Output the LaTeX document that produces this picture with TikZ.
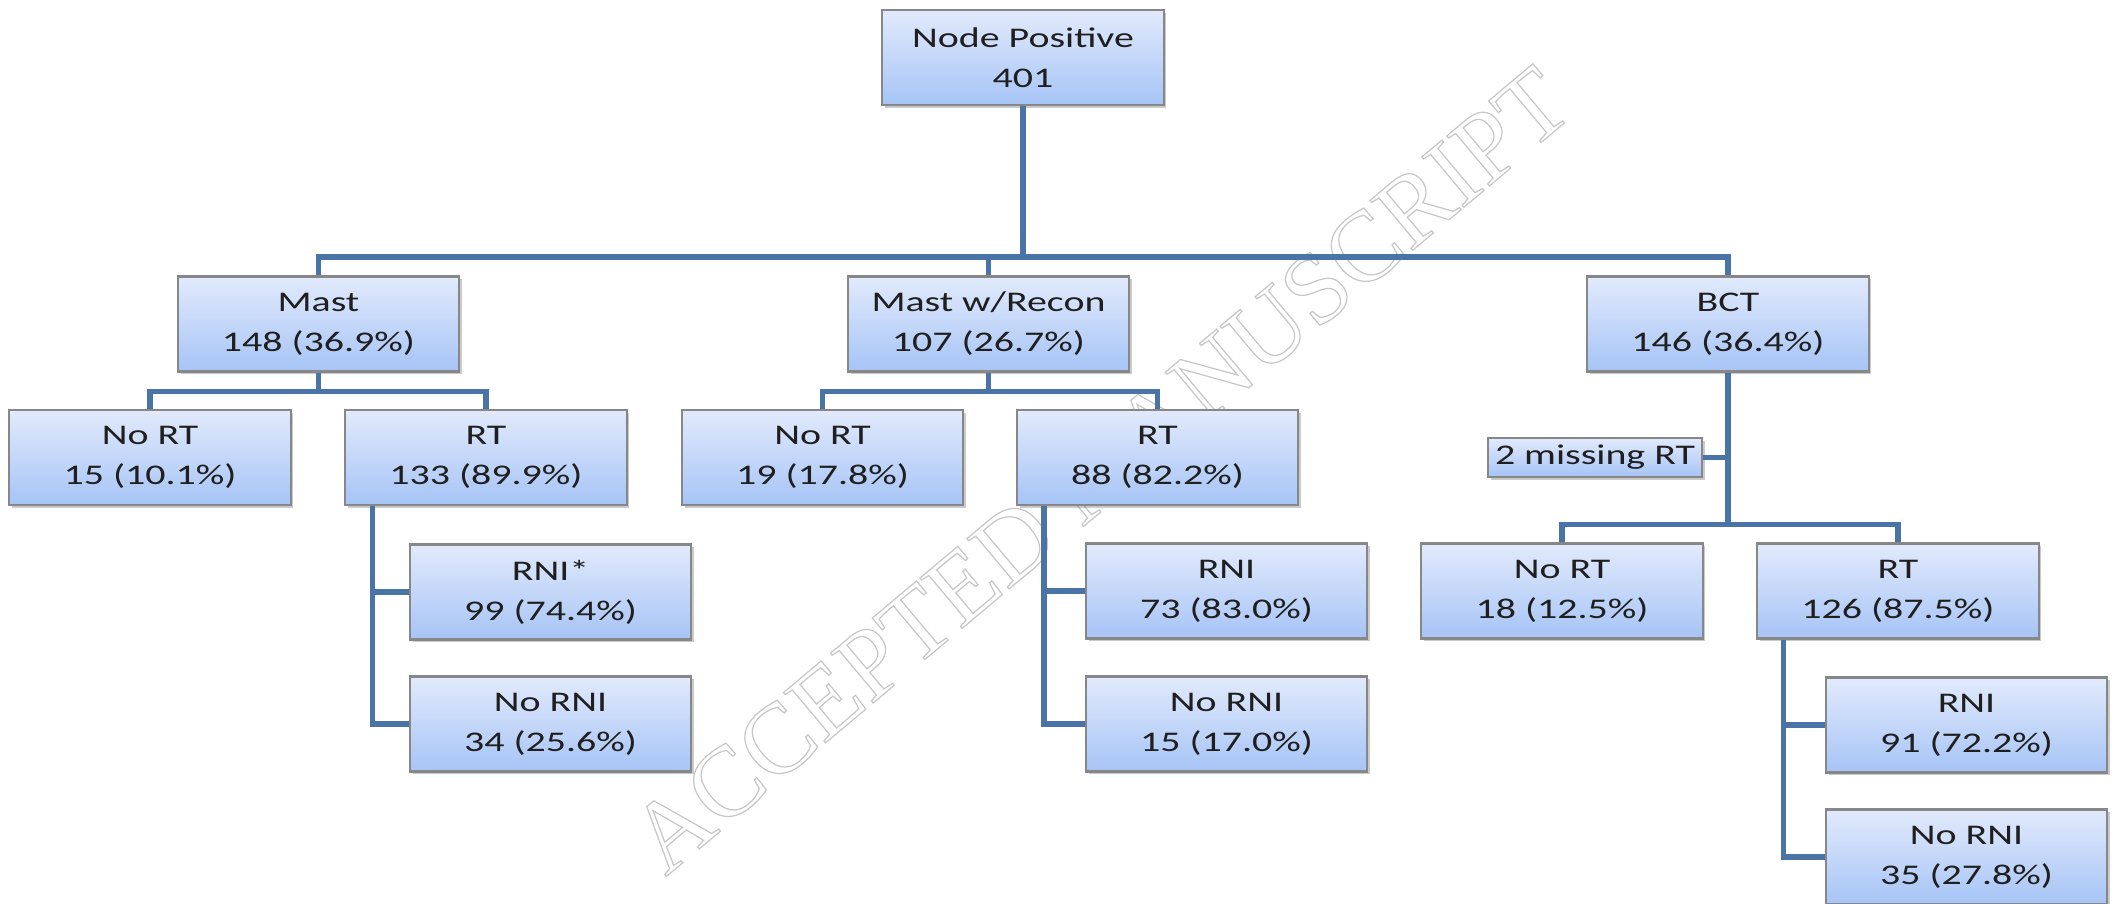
\documentclass[tikz,border=0pt]{standalone}
\usepackage{fontspec}
\newfontfamily\boxfont[FakeStretch=1.4]{Carlito}
\newfontfamily\wmfont{Liberation Serif}
\usetikzlibrary{shadows,calc}
\definecolor{boxtop}{RGB}{226,234,252}
\definecolor{boxbot}{RGB}{166,196,246}
\definecolor{boxline}{RGB}{135,135,135}
\definecolor{connblue}{RGB}{74,116,168}
\tikzset{
  box/.style={rectangle, draw=boxline, line width=0.6pt, top color=boxtop, bottom color=boxbot,
    minimum width=2.81cm, minimum height=0.95cm, align=center, inner sep=0pt,
    font={\boxfont\fontsize{8.1}{11.4}\selectfont}, text=black!88,
    drop shadow={shadow xshift=0.8pt, shadow yshift=-0.8pt, opacity=0.35, fill=black!60}},
  smallbox/.style={box, minimum width=2.14cm, minimum height=0.39cm},
  conn/.style={draw=connblue, line width=1.5pt},
  wmark/.style={rotate=40, text=black!22, font={\wmfont\fontsize{28.5}{28.5}\selectfont}}
}
\begin{document}
\begin{tikzpicture}[x=0.01cm, y=-0.01cm]
\useasboundingbox (0,0) rectangle (2117,904);
\node[wmark] (wm) at (1100,470) {\special{pdf:code 1 Tr 0.35 w}ACCEPTED MANUSCRIPT\special{pdf:code 0 Tr}};

\node[box] (root) at (1023,57.5) {Node Positive\\401};
\node[box] (mast) at (318.5,324) {Mast\\148 (36.9\%)};
\node[box] (recon) at (988.5,324) {Mast w/Recon\\107 (26.7\%)};
\node[box] (bct) at (1728,324) {BCT\\146 (36.4\%)};
\node[box] (nort1) at (150,457.5) {No RT\\15 (10.1\%)};
\node[box] (rt1) at (486,457.5) {RT\\133 (89.9\%)};
\node[box] (nort2) at (822.5,457.5) {No RT\\19 (17.8\%)};
\node[box] (rt2) at (1157.5,457.5) {RT\\88 (82.2\%)};
\node[smallbox] (miss) at (1595,457.5) {2 missing RT};
\node[box] (nort3) at (1562,591) {No RT\\18 (12.5\%)};
\node[box] (rt3) at (1898,591) {RT\\126 (87.5\%)};
\node[box] (rni1) at (550.5,592) {RNI*\\99 (74.4\%)};
\node[box] (nrni1) at (550.5,724) {No RNI\\34 (25.6\%)};
\node[box] (rni2) at (1226.5,591) {RNI\\73 (83.0\%)};
\node[box] (nrni2) at (1226.5,724) {No RNI\\15 (17.0\%)};
\node[box] (rni3) at (1966.5,725) {RNI\\91 (72.2\%)};
\node[box] (nrni3) at (1966.5,857) {No RNI\\35 (27.8\%)};

\coordinate (bus) at (1023,257);
\draw[conn] (root.south) -- (bus);
\draw[conn] (mast.north) |- (bus) -| (bct.north);
\draw[conn] (recon.north) -- (recon.north |- bus);

\draw[conn] (mast.south) -- ++(0,19) coordinate (mb);
\draw[conn] (nort1.north) |- (mb) -| (rt1.north);
\draw[conn] (recon.south) -- ++(0,19) coordinate (rb);
\draw[conn] (nort2.north) |- (rb) -| (rt2.north);
\draw[conn] (bct.south) -- ++(0,152) coordinate (bb);
\draw[conn] (nort3.north) |- (bb) -| (rt3.north);
\draw[conn] (miss.east) -- (miss.east -| bct.south);

\coordinate (t1) at ($(rt1.south west)+(28,0)$);
\draw[conn] (t1) |- (nrni1.west);
\draw[conn] (t1 |- rni1.west) -- (rni1.west);
\coordinate (t2) at ($(rt2.south west)+(28,0)$);
\draw[conn] (t2) |- (nrni2.west);
\draw[conn] (t2 |- rni2.west) -- (rni2.west);
\coordinate (t3) at ($(rt3.south west)+(27,0)$);
\draw[conn] (t3) |- (nrni3.west);
\draw[conn] (t3 |- rni3.west) -- (rni3.west);
\end{tikzpicture}
\end{document}
